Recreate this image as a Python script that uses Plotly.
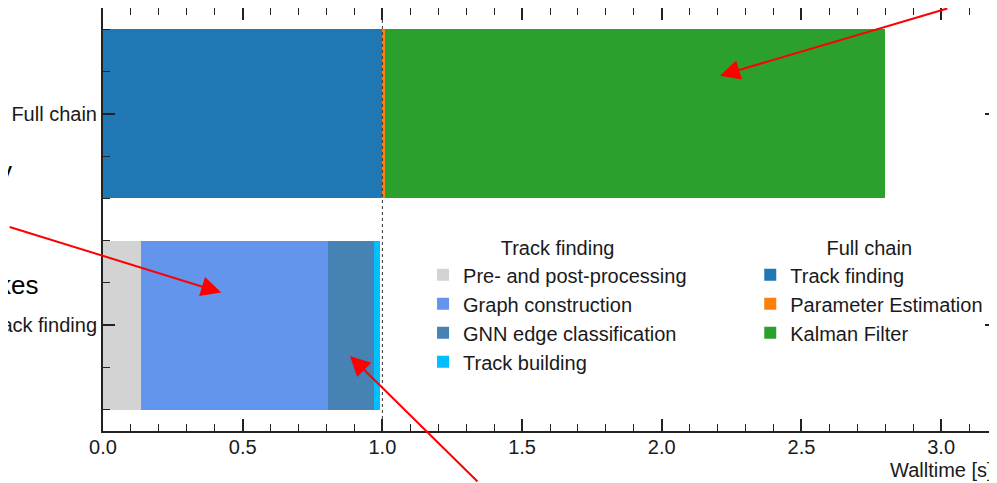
import plotly.graph_objects as go

# ---- data ----
rows = ["Track finding", "Full chain"]          # y positions 0, 1
tf_labels = ["Pre- and post-processing", "Graph construction",
             "GNN edge classification", "Track building"]
tf_values = [0.135, 0.670, 0.166, 0.022]
tf_colors = ["#d3d3d3", "#6495ed", "#4682b4", "#00bfff"]

fc_labels = ["Track finding", "Parameter Estimation", "Kalman Filter"]
fc_values = [1.000, 0.010, 1.790]
fc_colors = ["#1f77b4", "#ff7f0e", "#2ca02c"]

reference_time = 1.0
x_ticks = [0.0, 0.5, 1.0, 1.5, 2.0, 2.5, 3.0]

FONT = "Liberation Sans, Arial, Helvetica, sans-serif"
TXT = "#1a1a1a"

fig = go.Figure()

for lab, val, col in zip(tf_labels, tf_values, tf_colors):
    fig.add_trace(go.Bar(
        y=[0], x=[val], name=lab, orientation="h", width=0.8,
        marker=dict(color=col, line=dict(width=0)),
        legend="legend", hoverinfo="x+name"))

for lab, val, col in zip(fc_labels, fc_values, fc_colors):
    fig.add_trace(go.Bar(
        y=[1], x=[val], name=lab, orientation="h", width=0.8,
        marker=dict(color=col, line=dict(width=0)),
        legend="legend2", hoverinfo="x+name"))

# dashed reference line at 1 s
fig.add_trace(go.Scatter(
    x=[reference_time, reference_time], y=[-0.5, 1.5], mode="lines",
    line=dict(color="#333333", width=1, dash="dot"),
    showlegend=False, hoverinfo="skip"))

axis_common = dict(
    showline=True, linecolor="#222222", linewidth=2, mirror="allticks",
    ticks="inside", ticklen=12, tickwidth=1.5, tickcolor="#222222",
    showgrid=False, zeroline=False, automargin=False,
    tickfont=dict(family=FONT, size=20, color=TXT),
)

fig.update_xaxes(
    **axis_common, range=[0, 3.2], tickmode="array", tickvals=x_ticks,
    ticktext=[f"{v:.1f}" for v in x_ticks], ticklabelstandoff=-3,
    minor=dict(ticks="inside", ticklen=7, tickwidth=1.2, tickcolor="#222222",
               tickmode="linear", tick0=0, dtick=0.1, showgrid=False),
)
fig.update_yaxes(
    **axis_common, range=[-0.5, 1.5], tickmode="array", tickvals=[0, 1],
    ticktext=rows, ticklabelstandoff=0,
    minor=dict(ticks="inside", ticklen=7, tickwidth=1.2, tickcolor="#222222",
               tickmode="linear", tick0=0, dtick=0.2, showgrid=False),
)

legend_common = dict(
    font=dict(family=FONT, size=20, color=TXT), bgcolor="rgba(0,0,0,0)",
    borderwidth=0, xanchor="left", yanchor="top", tracegroupgap=0,
    itemclick=False, itemdoubleclick=False, traceorder="normal",
)
fig.update_layout(
    barmode="stack",
    width=989, height=475,
    margin=dict(l=95, r=0, t=0, b=52, autoexpand=False),
    paper_bgcolor="white", plot_bgcolor="white",
    font=dict(family=FONT, size=20, color=TXT),
    legend=dict(**legend_common, x=0.358, y=0.477,
                title=dict(text="Track finding", side="top center",
                           font=dict(family=FONT, size=20, color=TXT))),
    legend2=dict(**legend_common, x=0.724, y=0.477,
                 title=dict(text="Full chain", side="top center",
                            font=dict(family=FONT, size=20, color=TXT))),
)

# axis label (right-aligned like matplotlib)
fig.add_annotation(text="Walltime [s]", xref="paper", yref="paper", x=0.998, y=-0.092,
                   xanchor="right", yanchor="middle", showarrow=False,
                   font=dict(family=FONT, size=20, color=TXT))

# partially visible slide text on the left
fig.add_annotation(text="y", xref="paper", yref="paper", x=-0.0996, y=0.615,
                   xanchor="right", yanchor="middle", showarrow=False,
                   font=dict(family=FONT, size=26, color="#000000"))
fig.add_annotation(text="kes", xref="paper", yref="paper", x=-0.0705, y=0.345,
                   xanchor="right", yanchor="middle", showarrow=False,
                   font=dict(family=FONT, size=26, color="#000000"))

# red slide arrows
arrows = [
    (2.208, 1.18, 229, -85),
    (0.423, 0.155, -213, -66),
    (0.884, -0.145, 129, 140),
]
for xt, yt, ax, ay in arrows:
    fig.add_annotation(x=xt, y=yt, xref="x", yref="y", ax=ax, ay=ay,
                       text="", showarrow=True, arrowhead=2, arrowsize=2.0,
                       arrowwidth=2, arrowcolor="#ff0000", standoff=0)

fig.write_html("out.html")
